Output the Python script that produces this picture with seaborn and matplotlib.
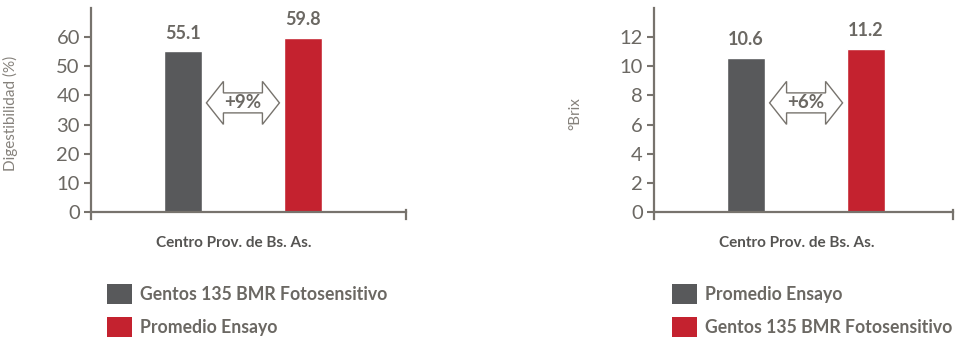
import matplotlib
matplotlib.use("Agg")
import matplotlib.pyplot as plt
import matplotlib.patches as mpatches
import matplotlib.transforms as mtransforms
import seaborn as sns
import pandas as pd

sns.set_style("white")
plt.rcParams['font.family'] = ['Lato', 'DejaVu Sans']

category = "Centro Prov. de Bs. As."

left_series = ["Gentos 135 BMR Fotosensitivo", "Promedio Ensayo"]
left_values = [55.1, 59.8]
left_ylabel = "Digestibilidad (%)"
left_ticks = [0, 10, 20, 30, 40, 50, 60]
left_delta = "+9%"

right_series = ["Promedio Ensayo", "Gentos 135 BMR Fotosensitivo"]
right_values = [10.6, 11.2]
right_ylabel = "°Brix"
right_ticks = [0, 2, 4, 6, 8, 10, 12]
right_delta = "+6%"

DARK = "#58595b"
RED = "#c4222f"
AX_COL = "#77736d"
TXT = "#6b6863"

fig = plt.figure(figsize=(9.56, 3.47), dpi=100)


def draw_arrow(ax, x, y, text):
    # double-headed outlined arrow annotation, shape in pixels around a data anchor
    L, HL, SH, HH = 36.5, 17, 10, 21.5
    pts = [(-L, 0), (-L + HL, HH), (-L + HL, SH), (L - HL, SH), (L - HL, HH), (L, 0),
           (L - HL, -HH), (L - HL, -SH), (-L + HL, -SH), (-L + HL, -HH)]
    tr = (mtransforms.Affine2D().scale(1 / 100.0) + fig.dpi_scale_trans
          + mtransforms.ScaledTranslation(x, y, ax.transData))
    poly = mpatches.Polygon(pts, closed=True, facecolor="white", edgecolor=AX_COL,
                            linewidth=1.0, transform=tr, zorder=5)
    ax.add_patch(poly)
    ax.text(x, y, text, ha="center", va="center", fontsize=13.5, fontweight="bold",
            color=TXT, zorder=6)


def panel(rect, series, values, ylabel, ticks, ymax, xlim, delta, label_x, legend_xy):
    ax = fig.add_axes(rect)
    df = pd.DataFrame({"serie": series, "valor": values})
    sns.barplot(data=df, x="serie", y="valor", hue="serie", palette=[DARK, RED],
                width=0.317, legend=False, ax=ax, saturation=1)
    ax.set_xlim(*xlim)
    ax.set_ylim(-ymax * 0.034, ymax)
    ax.set_yticks(ticks)
    ax.set_xticks([])
    ax.annotate(category, xy=(0.42, 0), xycoords=("data", "axes fraction"),
                xytext=(0, -17), textcoords="offset points", ha="center", va="center",
                fontsize=11, fontweight="bold", color="#555452")
    ax.tick_params(axis="y", length=5, width=1.5, color=AX_COL, labelsize=14.5,
                   labelcolor=TXT, pad=3, left=True)
    ax.set_xlabel("")
    ax.set_ylabel(ylabel, fontsize=11, color="#85817b")
    ax.yaxis.set_label_coords(label_x, 0.5)
    ax.spines["top"].set_visible(False)
    ax.spines["right"].set_bounds(-ymax * 0.034, ymax * 0.012)
    ax.spines["bottom"].set_position(("data", 0))
    for s in ["left", "bottom", "right"]:
        ax.spines[s].set_color(AX_COL)
        ax.spines[s].set_linewidth(1.6)
    for p, v in zip(ax.patches, values):
        ax.annotate(f"{v:.1f}", (p.get_x() + p.get_width() / 2, p.get_height()),
                    xytext=(0, 7), textcoords="offset points", ha="center", va="bottom",
                    fontsize=13, fontweight="bold", color=TXT)
    draw_arrow(ax, 0.5, ymax * 0.535, delta)
    handles = [mpatches.Patch(facecolor=c, edgecolor="none") for c in [DARK, RED]]
    leg = fig.legend(handles, series, loc="upper left", bbox_to_anchor=legend_xy,
                     frameon=False, handlelength=1.4, handleheight=1.4,
                     handletextpad=0.48, labelspacing=0.72, borderpad=0, borderaxespad=0,
                     prop={"weight": "bold", "size": 12.7})
    for t in leg.get_texts():
        t.set_color(TXT)
    return ax


panel([91 / 956, 1 - 219 / 347, 315 / 956, 211 / 347], left_series, left_values,
      left_ylabel, left_ticks, 70, (-0.766, 1.859), left_delta, -0.232,
      (107 / 956, 1 - 284 / 347))
panel([654 / 956, 1 - 219 / 347, 299 / 956, 211 / 347], right_series, right_values,
      right_ylabel, right_ticks, 14, (-0.768, 1.725), right_delta, -0.241,
      (672 / 956, 1 - 284 / 347))

fig.savefig("out.png", dpi=100)
